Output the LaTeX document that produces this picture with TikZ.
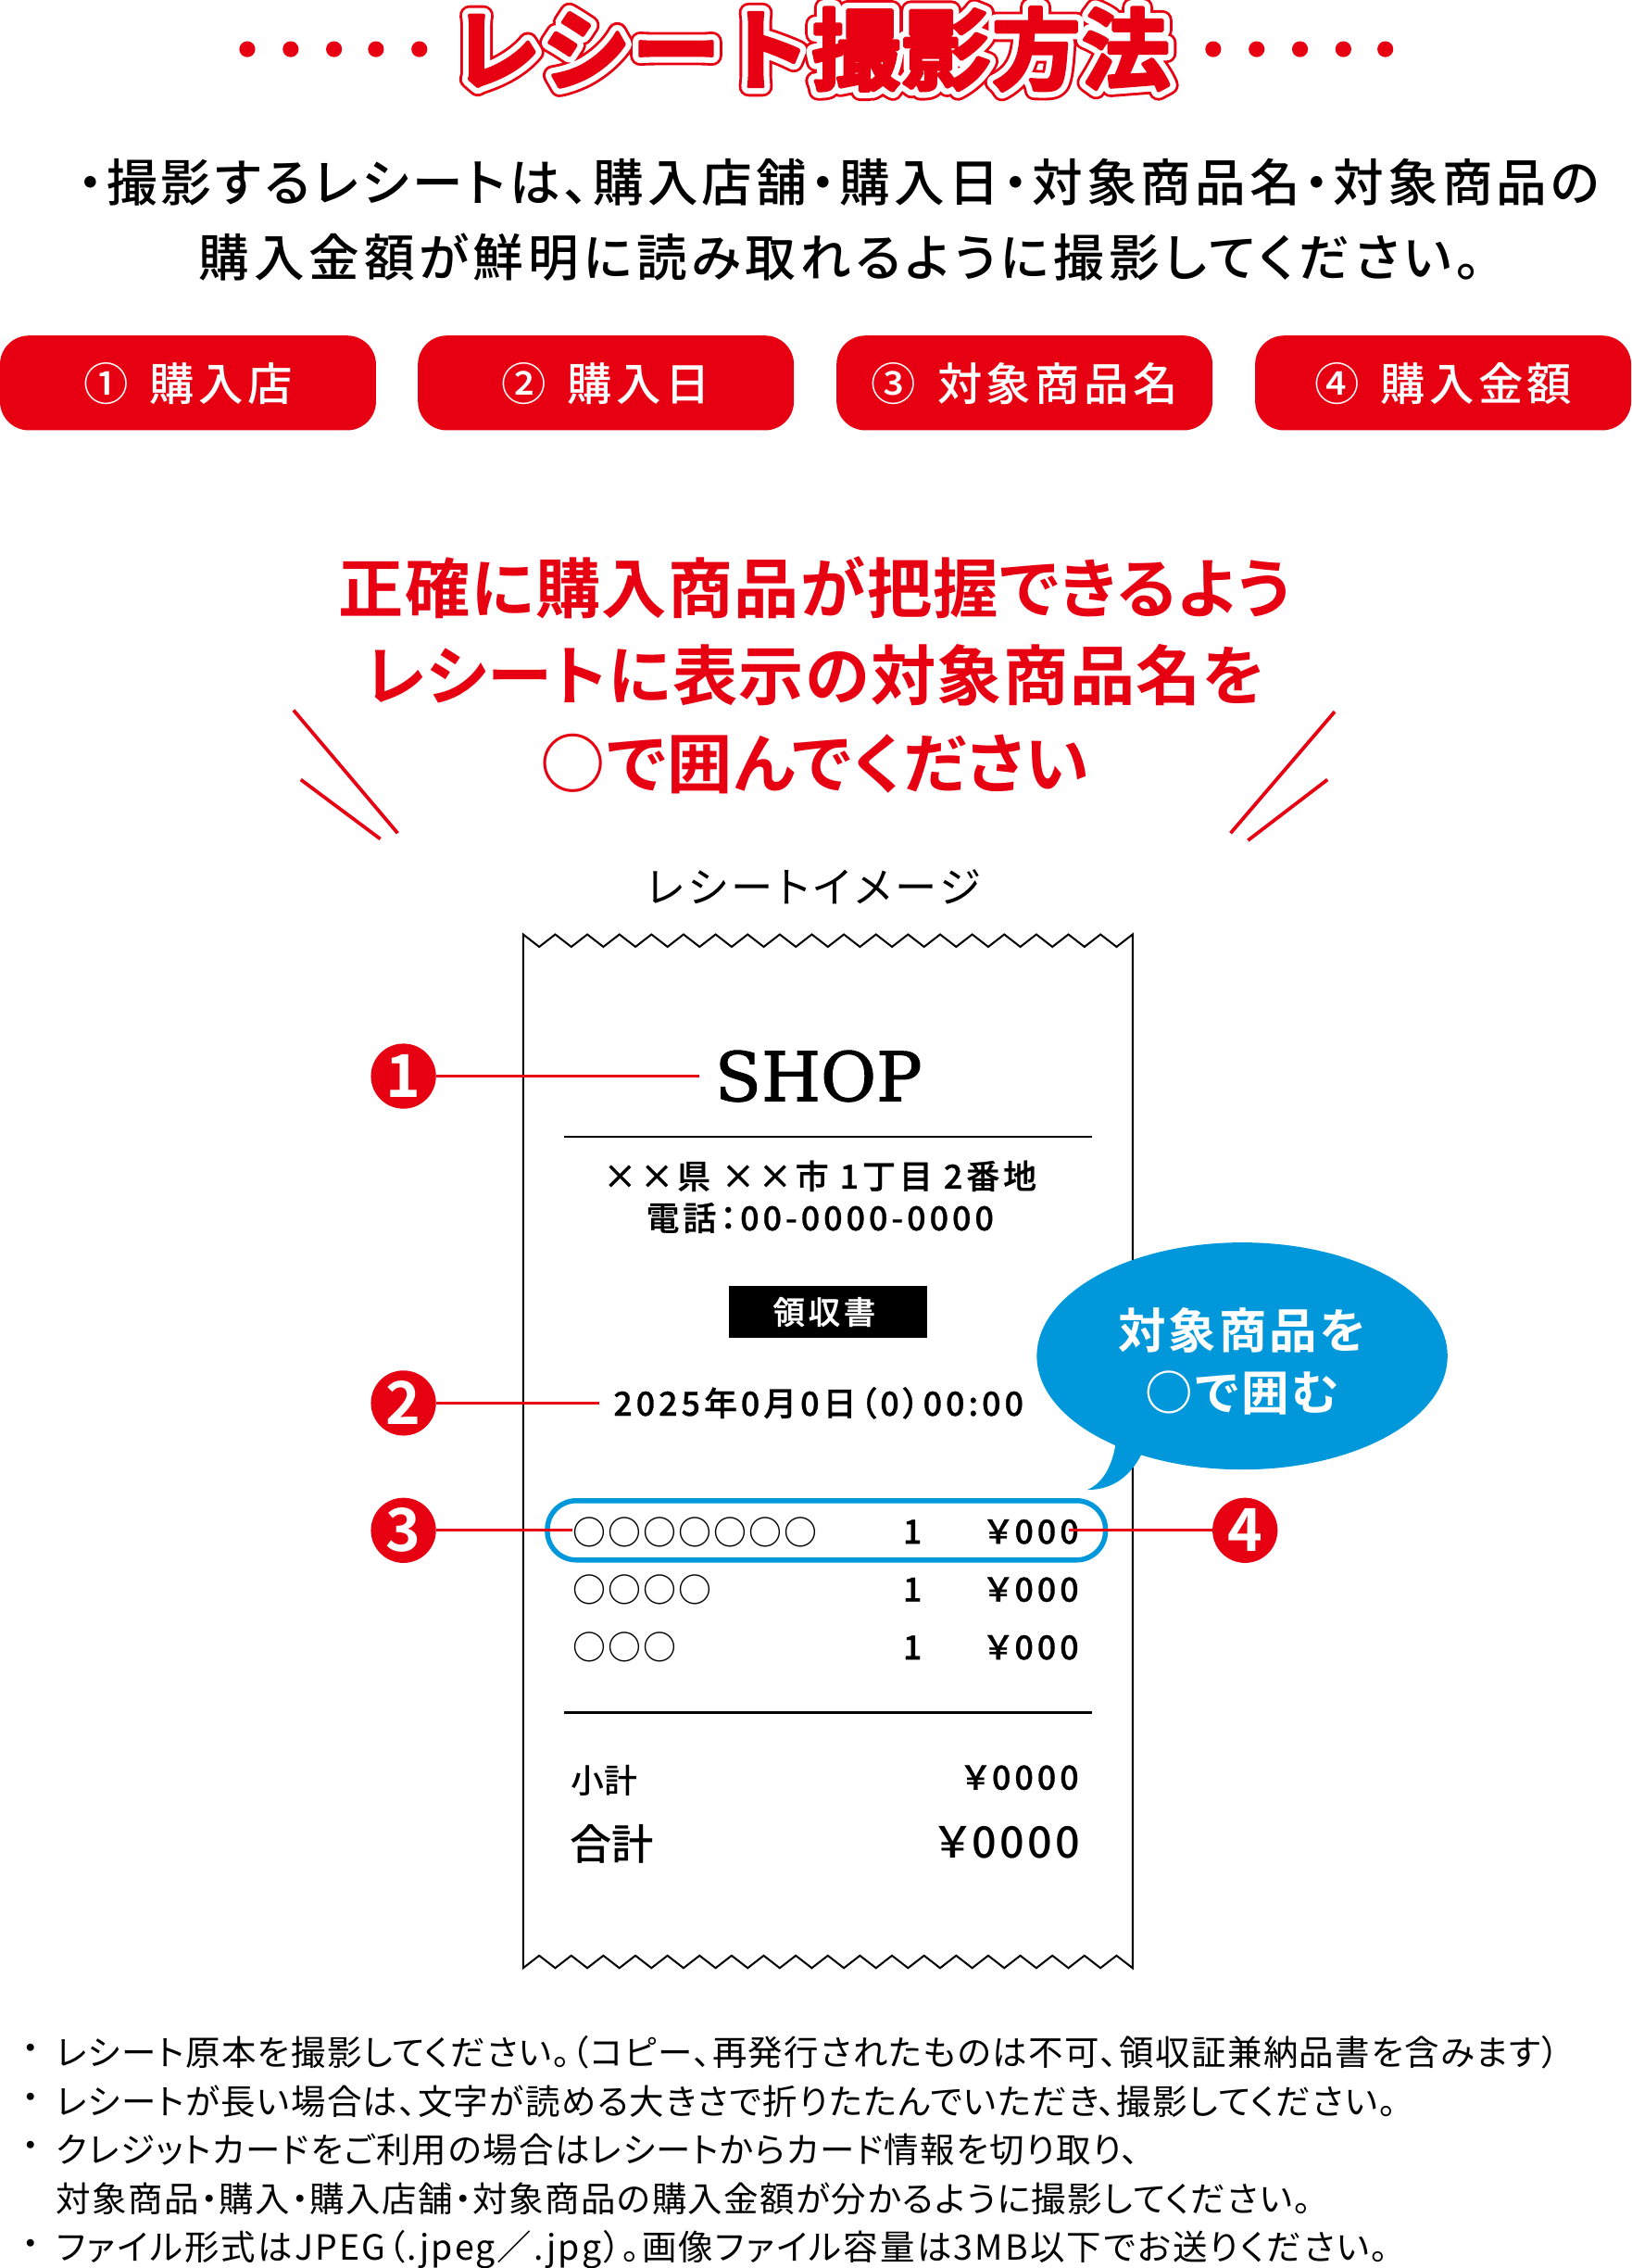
\documentclass[tikz,border=0pt]{standalone}
\usepackage{fontspec}
\usetikzlibrary{shapes.geometric}
\setmainfont{Noto Sans CJK JP}
\newfontfamily\jpr[RawFeature=+palt,LetterSpace=3.9]{Noto Sans CJK JP}
\newfontfamily\jprw[RawFeature=+palt,LetterSpace=5.8]{Noto Sans CJK JP}
\newfontfamily\jpcap[RawFeature=+palt,LetterSpace=10]{Noto Sans CJK JP}
\newfontfamily\jpb[RawFeature=+palt,LetterSpace=2]{Noto Sans CJK JP Bold}
\newfontfamily\jpbb[RawFeature=+palt,LetterSpace=5.5]{Noto Sans CJK JP Bold}
\newfontfamily\jpn{Noto Sans CJK JP Bold}
\newfontfamily\jpm[RawFeature=+palt,LetterSpace=11,FakeBold=0.8]{Noto Sans CJK JP Medium}
\newfontfamily\jpmb[RawFeature=+palt,LetterSpace=9]{Noto Sans CJK JP Medium}
\newfontfamily\jpmp[RawFeature=+palt,LetterSpace=7.5]{Noto Sans CJK JP Medium}
\newfontfamily\jpmq[RawFeature=+palt,LetterSpace=8.8]{Noto Sans CJK JP Medium}
\newfontfamily\jpmo[RawFeature=+palt,LetterSpace=6]{Noto Sans CJK JP Medium}
\newfontfamily\jpmt[RawFeature=+palt,LetterSpace=7]{Noto Sans CJK JP Medium}
\newfontfamily\jpmn{Noto Sans CJK JP Medium}
\newfontfamily\titleout[LetterSpace=2,FakeBold=23]{Noto Sans CJK JP Bold}
\newfontfamily\titlemid[LetterSpace=2,FakeBold=17]{Noto Sans CJK JP Bold}
\newfontfamily\titlein[LetterSpace=2,FakeBold=4]{Noto Sans CJK JP Bold}
\newfontfamily\slab[FakeBold=1.5]{DejaVu Serif}
\newcommand{\rj}{\special{pdf:code 1 j 1 J}}
\definecolor{rred}{HTML}{E60012}
\definecolor{rblue}{HTML}{0097DB}
\tikzset{
 x=1pt,y=-1pt,
 every node/.style={inner sep=0pt,outer sep=0pt},
 dotmark/.style={circle,fill=rred,minimum size=11pt},
 btn/.style={rounded corners=20pt,fill=rred},
 btntext/.style={text=white,font=\fontsize{31}{31}\selectfont\jpmb},
 head/.style={text=rred,font=\fontsize{45}{45}\selectfont\jpb},
 para/.style={font=\fontsize{35}{35}\selectfont\jpmp},
 num/.style={circle,fill=rred,minimum size=45pt,text=white,font=\fontsize{41}{41}\selectfont\jpn},
 lead/.style={draw=rred,line width=2pt},
 rule/.style={draw=black,line width=1.3pt},
 slash/.style={draw=rred,line width=2.4pt},
 rc/.style={font=\fontsize{23}{23}\selectfont\jpm},
 ro/.style={font=\fontsize{23}{23}\selectfont\jpmo},
 note/.style={anchor=west,font=\fontsize{24}{24}\selectfont\jpr},
}
\begin{document}
\begin{tikzpicture}
\useasboundingbox (0,0) rectangle (1128.1,1568);
% title
\foreach \i/\x in {1/171,2/201,3/231,4/260,5/290,6/839,7/869,8/899,9/929,10/958}
  \node[dotmark] (d\i) at (\x,34) {};
\node[text=rred,font=\fontsize{61}{61}\selectfont\titleout] at (561,34) {\rj レシート撮影方法};
\node[text=white,font=\fontsize{61}{61}\selectfont\titlemid] at (561,34) {\rj レシート撮影方法};
\node[text=rred,font=\fontsize{61}{61}\selectfont\titlein] (title) at (561,34) {\rj レシート撮影方法};
% paragraph
\node[para] (p1) at (580,126) {・撮影するレシートは、購入店舗・購入日・対象商品名・対象商品の};
\node[para,font=\fontsize{35}{35}\selectfont\jpmq] (p2) at (581,178) {購入金額が鮮明に読み取れるように撮影してください。};
% buttons
\foreach \n/\x/\a/\t in {a/0/①/購入店,b/289/②/購入日,c/578.5/③/対象商品名,d/868/④/購入金額}{
  \path[btn] (\x,232) rectangle ++(260,65.5);
  \node[btntext] (btn\n) at (\x+130,265) {\a\ \hspace{5pt}\t};
}
% heading
\node[head] (h1) at (563.5,406) {正確に購入商品が把握できるよう};
\node[head] (h2) at (563.5,467) {レシートに表示の対象商品名を};
\node[head] (h3) at (563.5,528) {○で囲んでください};
\coordinate (s1a) at (203,491); \coordinate (s1b) at (275,576);
\coordinate (s2a) at (208,539); \coordinate (s2b) at (263,580);
\coordinate (s3a) at (923,492); \coordinate (s3b) at (851,576);
\coordinate (s4a) at (918,539); \coordinate (s4b) at (863,581);
\draw[slash] (s1a)--(s1b); \draw[slash] (s2a)--(s2b);
\draw[slash] (s3a)--(s3b); \draw[slash] (s4a)--(s4b);
\node[font=\fontsize{29}{29}\selectfont\jpcap] (cap) at (563,613) {レシートイメージ};
% receipt outline
\draw[rule,line join=miter]
  (361.8,646) \foreach \k in {1,...,19}{ -- ++(11.09,8.6) -- ++(11.09,-8.6)}
  -- (783.2,1360.6) \foreach \k in {1,...,19}{ -- ++(-11.09,-8.6) -- ++(-11.09,8.6)} -- cycle;
\node[font=\fontsize{47}{47}\selectfont\slab] (shop) at (566,744) {SHOP};
\draw[rule] (390,786) -- (755,786);
\node[rc] (addr) at (567,813) {××県 ××市 1丁目 2番地};
\node[rc] (tel) at (567,842) {電話：00-0000-0000};
\node[fill=black,minimum width=137pt,minimum height=36pt] (rb) at (572.5,907) {};
\node[rc,text=white,font=\fontsize{22}{22}\selectfont\jpm] (ryo) at (570,907) {領収書};
\node[rc] (date) at (566,970) {2025年0月0日（0）00:00};
% rows
\node[ro,anchor=west] (ra) at (396,1059) {○○○○○○○};
\node[rc,anchor=center] (q1) at (631,1059) {1};
\node[rc,anchor=east] (pa) at (746,1059) {￥000};
\node[ro,anchor=west] (rb2) at (396,1099) {○○○○};
\node[rc,anchor=center] (q2) at (631,1099) {1};
\node[rc,anchor=east] (pb) at (746,1099) {￥000};
\node[ro,anchor=west] (rc3) at (396,1139) {○○○};
\node[rc,anchor=center] (q3) at (631,1139) {1};
\node[rc,anchor=east] (pc) at (746,1139) {￥000};
\draw[rule] (390,1184) -- (755,1184);
\node[rc,anchor=west,font=\fontsize{23}{23}\selectfont\jpmn] (sub) at (395,1231) {小計};
\node[rc,anchor=east] (subv) at (746,1229) {￥0000};
\node[anchor=west,font=\fontsize{29}{29}\selectfont\jpmn] (tot) at (394,1275) {合計};
\node[anchor=east,font=\fontsize{30}{30}\selectfont\jpmt] (totv) at (747,1274) {￥0000};
% pill
\draw[rblue,line width=3.5pt,rounded corners=20pt] (378.5,1037.5) rectangle (764.5,1078.5);
% bubble
\node[ellipse,fill=rblue,minimum width=284pt,minimum height=157pt] (bub) at (859,937.5) {};
\fill[rblue] (772,995) .. controls (770,1010) and (765,1024) .. (752,1030)
   .. controls (770,1030) and (783,1020) .. (791,1002) -- cycle;
\node[text=white,font=\fontsize{33}{33}\selectfont\jpbb] (b1) at (859,920) {対象商品を};
\node[text=white,font=\fontsize{33}{33}\selectfont\jpbb] (b2) at (859,963) {○で囲む};
% numbers
\node[num] (n1) at (279,744) {1};
\node[num] (n2) at (279,970) {2};
\node[num] (n3) at (279,1058) {3};
\node[num] (n4) at (861,1058) {4};
\draw[lead,shorten >=11pt] (n1) -- (n1 -| shop.west);
\draw[lead,shorten >=10pt] (n2) -- (n2 -| date.west);
\draw[lead] (n3) -- (n3 -| ra.west);
\draw[lead,shorten >=-7pt] (n4) -- (n4 -| pa.east);
% notes
\foreach \n/\y in {a/1419,b/1453,c/1486,d/1554}
  \node[note] (bl\n) at (15,\y) {・};
\node[note] (t1) at (39,1419) {レシート原本を撮影してください。（コピー、再発行されたものは不可、領収証兼納品書を含みます）};
\node[note] (t2) at (39,1453) {レシートが長い場合は、文字が読める大きさで折りたたんでいただき、撮影してください。};
\node[note] (t3) at (39,1486) {クレジットカードをご利用の場合はレシートからカード情報を切り取り、};
\node[note] (t4) at (39,1520) {対象商品・購入・購入店舗・対象商品の購入金額が分かるように撮影してください。};
\node[note,font=\fontsize{24}{24}\selectfont\jprw] (t5) at (39,1555.5) {ファイル形式はJPEG（.jpeg／.jpg）。画像ファイル容量は3MB以下でお送りください。};
\end{tikzpicture}
\end{document}
